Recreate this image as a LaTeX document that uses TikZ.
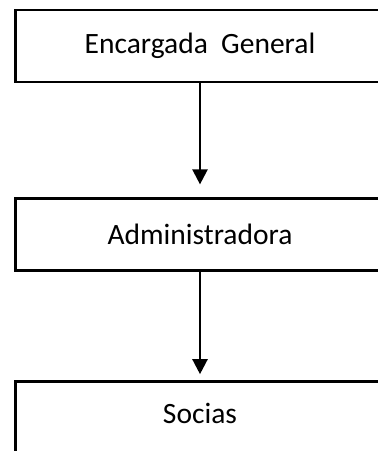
\documentclass[tikz,border=0pt]{standalone}
\usepackage{fontspec}
\setmainfont{Carlito}
\usepackage{tikz}
\usetikzlibrary{positioning,arrows.meta}

\begin{document}
\begin{tikzpicture}[x=1pt, y=1pt,
    box/.style={draw, line width=2.8pt, minimum width=369pt, minimum height=72pt,
      font=\fontsize{29.5}{34}\selectfont},
    arrow/.style={line width=2.3pt, -{Triangle[width=15pt,length=15pt]}}]
  \useasboundingbox (0,0) rectangle (378,451);
  \clip (0,0) rectangle (378,451);
  \node[box] (encargada) at (200,405) {Encargada\ \ General};
  \node[box, below = 114pt of encargada] (admin) {Administradora};
  \node[box, below = 108pt of admin] (socias) {};
  \node[font=\fontsize{29.5}{34}\selectfont] (sociasText) at ([yshift=4pt]socias) {Socias};
  \coordinate[above = 13pt of admin.north] (adminTip);
  \coordinate[above = 6pt of socias.north] (sociasTip);
  \draw[arrow] (encargada.south) -- (adminTip);
  \draw[arrow] (admin.south) -- (sociasTip);
\end{tikzpicture}
\end{document}
